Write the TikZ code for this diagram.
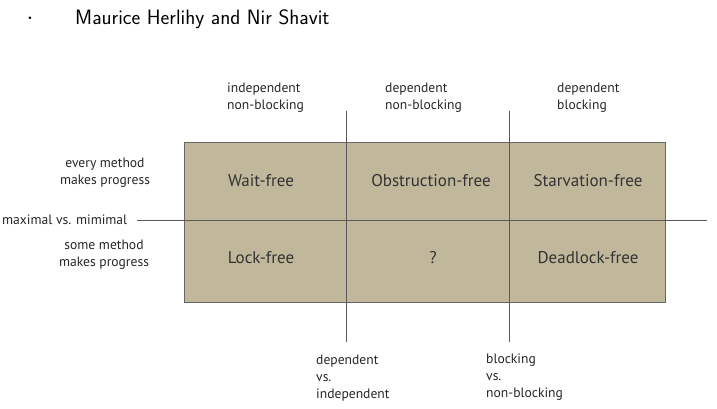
\documentclass[tikz,border=0pt]{standalone}
\usepackage{fontspec}
\setmainfont{PT Sans}
\begin{document}
\begin{tikzpicture}[x=1pt,y=-1pt,
  lab/.style={font=\fontsize{13.6}{17}\selectfont, text=black!85, align=left, inner sep=0pt},
  labc/.style={font=\fontsize{13.6}{17}\selectfont, text=black!85, align=center, inner sep=0pt},
  cell/.style={font=\fontsize{17}{20}\selectfont, text=black!80, inner sep=0pt},
  ln/.style={draw=black!65, line width=0.8pt}]
\useasboundingbox (0,0) rectangle (717,408);
\definecolor{boxfill}{HTML}{C1B89B}
% title
\node[inner sep=0pt] (dot) at (30,19) {\sffamily\fontsize{28}{30}\selectfont$\cdot$};
\node[anchor=west, inner sep=0pt] (title) at (75,19) {\sffamily\fontsize{20.8}{24}\selectfont Maurice Herlihy and Nir Shavit};
% box
\path[fill=boxfill, draw=black!60, line width=0.8pt] (184,142) rectangle (665,302);
\coordinate (v1t) at (346,111); \coordinate (v1b) at (346,342);
\coordinate (v2t) at (509,111); \coordinate (v2b) at (509,342);
\coordinate (hl) at (137,220); \coordinate (hr) at (707,220);
\draw[ln] (v1t) -- (v1b);
\draw[ln] (v2t) -- (v2b);
\draw[ln] (hl) -- (hr);
% cells
\node[cell] (wf) at (261,181) {Wait-free};
\node[cell] (of) at (431,181) {Obstruction-free};
\node[cell] (sf) at (588,181) {Starvation-free};
\node[cell] (lf) at (261,258) {Lock-free};
\node[cell] (q) at (433,258) {?};
\node[cell] (df) at (588,258) {Deadlock-free};
% left labels
\node[labc] (every) at (105,173) {every method\\makes progress};
\node[lab, anchor=west] (maxmin) at (2,220) {maximal vs. mimimal};
\node[labc] (some) at (104,255) {some method\\makes progress};
% top labels
\node[lab, anchor=west] (t1) at (227,98) {independent\\non-blocking};
\node[lab, anchor=west] (t2) at (385,98) {dependent\\non-blocking};
\node[lab, anchor=west] (t3) at (557,98) {dependent\\blocking};
% bottom labels
\node[lab, anchor=west] (b1) at (316,378) {dependent\\vs.\\independent};
\node[lab, anchor=west] (b2) at (486,377) {blocking\\vs.\\non-blocking};
\end{tikzpicture}
\end{document}
